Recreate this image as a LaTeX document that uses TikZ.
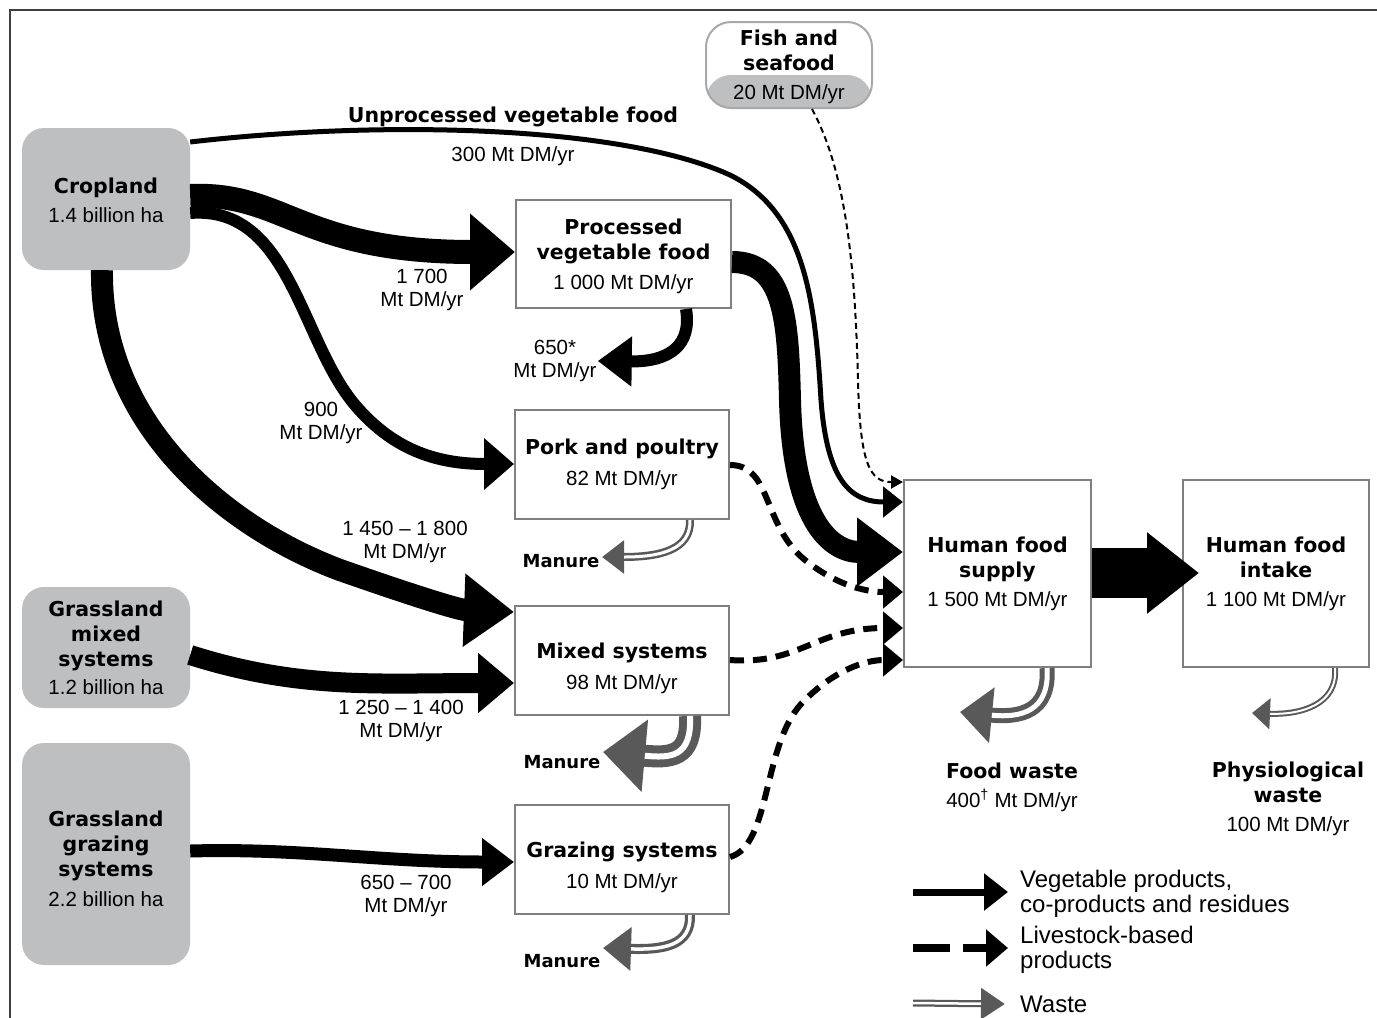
\documentclass[tikz,border=0pt]{standalone}
\usepackage{fontspec}
\setmainfont{Liberation Sans}
\newfontfamily\dvs{DejaVu Sans}
\usetikzlibrary{arrows.meta,calc}
\definecolor{landgray}{HTML}{BEBFC1}
\definecolor{boxedge}{HTML}{7F7F7F}
\definecolor{fishedge}{HTML}{A8A8A8}
\definecolor{wastegray}{HTML}{595959}
\newcommand\hb[1]{{\dvs\bfseries #1}}
\newcommand\wastearrow[5]{%
  \draw[wastegray, line width=#1, -{Triangle[length=#3,width=#4]}] #5;
  \draw[white, line width=#2, shorten >=#3] #5;}
\tikzset{
  land/.style={fill=landgray, rounded corners=22pt, minimum width=168pt, inner sep=0pt, align=center},
  stagebox/.style={draw=boxedge, line width=2pt, fill=white, minimum width=214pt, minimum height=109pt, inner sep=0pt, align=center},
  lbl/.style={align=center, inner sep=1pt, font=\fontsize{20.5}{23}\selectfont},
  vegarrow/.style={draw=black},
  livestock/.style={draw=black, line width=6pt, dash pattern=on 14pt off 9pt, -{Triangle[length=20pt,width=32pt]}},
  fishdash/.style={draw=black, line width=2pt, dash pattern=on 6pt off 4pt, -{Triangle[length=12pt,width=13pt]}},
  legtext/.style={anchor=west, align=left, inner sep=0pt, font=\fontsize{24}{25}\selectfont},
}
\begin{document}
\begin{tikzpicture}[x=1pt,y=-1pt, font=\fontsize{20.5}{25}\selectfont]
\useasboundingbox (0,0) rectangle (1377,1018);
\draw[line width=1.5pt, black!75] (10,1018) -- (10,10) -- (1377,10);

% source boxes
\node[land, minimum height=142pt] (crop) at (106,199) {\rule{0pt}{18pt}\hb{Cropland}\\[4pt]1.4 billion ha};
\node[land, minimum height=121pt] (gm) at (106,647.5) {\hb{Grassland}\\\hb{mixed}\\\hb{systems}\\[3pt]1.2 billion ha};
\node[land, minimum height=222pt] (gg) at (106,854) {\rule{0pt}{25pt}\hb{Grassland}\\\hb{grazing}\\\hb{systems}\\[5pt]2.2 billion ha};
\node[draw=fishedge, line width=2pt, fill=white, rounded corners=25pt, minimum width=166pt, minimum height=86pt, inner sep=0pt, align=center,
  path picture={\fill[landgray] ([yshift=-53pt]path picture bounding box.north west) rectangle (path picture bounding box.south east);}]
  (fish) at (789,65) {\rule{0pt}{20pt}\hb{Fish and}\\\hb{seafood}\\[4pt]20 Mt DM/yr};

% stage boxes
\node[stagebox, minimum width=215pt, minimum height=108pt] (proc) at (623.5,254) {\rule{0pt}{20pt}\hb{Processed}\\\hb{vegetable food}\\[5pt]1 000 Mt DM/yr};
\node[stagebox] (pork) at (622,464.5) {\hb{Pork and poultry}\\[6pt]82 Mt DM/yr};
\node[stagebox] (mixed) at (622,660.5) {\rule{0pt}{31pt}\hb{Mixed systems}\\[6pt]98 Mt DM/yr};
\node[stagebox] (grazing) at (622,859.5) {\rule{0pt}{31pt}\hb{Grazing systems}\\[6pt]10 Mt DM/yr};
\node[stagebox, minimum width=187pt, minimum height=187pt] (hfs) at (997.5,573.5) {\hb{Human food}\\\hb{supply}\\[4pt]1 500 Mt DM/yr};
\node[stagebox, minimum width=186pt, minimum height=187pt] (hfi) at (1276,573.5) {\hb{Human food}\\\hb{intake}\\[4pt]1 100 Mt DM/yr};

% labels
\node[lbl] (unproc) at (513,117) {\hb{Unprocessed vegetable food}};
\node[lbl] (l300) at (513,156) {300 Mt DM/yr};
\node[lbl] (l1700) at (422,290) {1 700\\Mt DM/yr};
\node[lbl] (l650) at (555,361) {650*\\Mt DM/yr};
\node[lbl] (l900) at (321,423) {900\\Mt DM/yr};
\node[lbl] (l1450) at (405,542) {1 450 – 1 800\\Mt DM/yr};
\node[lbl] (l1250) at (401,721) {1 250 – 1 400\\Mt DM/yr};
\node[lbl] (l650b) at (406,896) {650 – 700\\Mt DM/yr};
\node[lbl, font=\fontsize{18}{20}\selectfont] (man1) at (561,561) {\hb{Manure}};
\node[lbl, font=\fontsize{18}{20}\selectfont] (man2) at (562,762) {\hb{Manure}};
\node[lbl, font=\fontsize{18}{20}\selectfont] (man3) at (562,961) {\hb{Manure}};
\node[lbl, font=\fontsize{20.5}{26}\selectfont] (fw) at (1012,787) {\hb{Food waste}\\[3pt]400\textsuperscript{†} Mt DM/yr};
\node[lbl, font=\fontsize{20.5}{25}\selectfont] (pw) at (1288,799) {\hb{Physiological}\\\hb{waste}\\[4pt]100 Mt DM/yr};

% vegetable flows
\draw[vegarrow, line width=5pt, -{Triangle[length=20pt,width=30pt]}]
  (crop.east |- 0,142) .. controls (380,120) and (620,125) .. (730,175)
  .. controls (805,212) and (815,300) .. (821,400)
  .. controls (827,480) and (850,502) .. (hfs.west |- 0,502);
\draw[vegarrow, line width=24pt, -{Triangle[length=45pt,width=74pt]}]
  (crop.east |- 0,196) .. controls (285,192) and (300,252) .. (proc.west |- 0,252);
\draw[vegarrow, line width=12pt, -{Triangle[length=30pt,width=50pt]}]
  (crop.east |- 0,213) .. controls (290,205) and (300,340) .. (355,405)
  .. controls (395,452) and (440,464) .. (pork.west |- 0,464);
\draw[vegarrow, line width=22pt, -{Triangle[length=50pt,width=70pt]}]
  (crop.south -| 102,0) .. controls (100,420) and (220,525) .. (340,570)
  .. controls (420,598) and (460,610) .. (mixed.west |- 0,612);
\draw[vegarrow, line width=20pt, -{Triangle[length=36pt,width=58pt]}]
  (gm.east |- 0,655) .. controls (300,690) and (380,683) .. (mixed.west |- 0,683);
\draw[vegarrow, line width=13pt, -{Triangle[length=32pt,width=46pt]}]
  (gg.east |- 0,851) .. controls (300,848) and (380,862) .. (grazing.west |- 0,862);
\draw[vegarrow, line width=22pt, -{Triangle[length=46pt,width=66pt]}]
  (proc.east |- 0,262) .. controls (785,262) and (788,320) .. (790,400)
  .. controls (793,520) and (830,552) .. (hfs.west |- 0,552);
\draw[vegarrow, line width=12pt, -{Triangle[length=34pt,width=48pt]}]
  (proc.south -| 686,0) .. controls (692,345) and (670,362) .. (l650.east);
\draw[vegarrow, line width=50pt, -{Triangle[length=52pt,width=78pt]}, shorten >=-17pt]
  (hfs.east |- 0,573) -- (hfi.west |- 0,573);

% fish and livestock flows
\draw[fishdash] (fish.south -| 812,0) .. controls (845,170) and (855,260) .. (858,380)
  .. controls (860,465) and (870,482) .. (hfs.west |- 0,482);
\draw[livestock] (pork.east |- 0,465) .. controls (772,465) and (762,525) .. (805,560)
  .. controls (840,588) and (870,592) .. (hfs.west |- 0,592);
\draw[livestock] (mixed.east |- 0,660) .. controls (800,665) and (815,628) .. (hfs.west |- 0,628);
\draw[livestock] (grazing.east |- 0,857) .. controls (772,845) and (762,740) .. (805,700)
  .. controls (835,670) and (865,660) .. (hfs.west |- 0,660);

% waste flows
\coordinate (m1tip) at (602,557);
\coordinate (m2tip) at (603,752);
\coordinate (m3tip) at (603,948);
\coordinate (fwtip) at (960,712);
\coordinate (pwtip) at (1252,713);
\wastearrow{8pt}{3pt}{22pt}{32pt}{(pork.south -| 690,0) .. controls (691,550) and (660,557) .. (m1tip)}
\wastearrow{22pt}{6pt}{42pt}{70pt}{(mixed.south -| 690,0) .. controls (692,758) and (670,758) .. (m2tip)}
\wastearrow{10pt}{3.5pt}{28pt}{42pt}{(grazing.south -| 690,0) .. controls (691,945) and (665,950) .. (m3tip)}
\wastearrow{15pt}{5pt}{32pt}{54pt}{(hfs.south -| 1047,0) .. controls (1050,712) and (1020,718) .. (fwtip)}
\wastearrow{6pt}{2pt}{18pt}{30pt}{(hfi.south -| 1335,0) .. controls (1338,705) and (1300,715) .. (pwtip)}

% legend
\coordinate (lg1s) at (913,892);
\coordinate (lg2s) at (913,948);
\coordinate (lg3s) at (913,1003);
\node[legtext] (leg1) at (1020,894) {Vegetable products,\\co-products and residues};
\node[legtext] (leg2) at (1020,950) {Livestock-based\\products};
\node[legtext] (leg3) at (1020,1004) {Waste};
\draw[vegarrow, line width=7pt, -{Triangle[length=24pt,width=36pt]}, shorten >=12pt] (lg1s) -- (leg1.west |- lg1s);
\draw[black, line width=8pt, dash pattern=on 37pt off 13pt, -{Triangle[length=22pt,width=36pt]}, shorten >=12pt] (lg2s) -- (leg2.west |- lg2s);
\wastearrow{7pt}{2.5pt}{24pt}{30pt}{(lg3s) -- ([xshift=-15pt]leg3.west)}
\end{tikzpicture}
\end{document}
